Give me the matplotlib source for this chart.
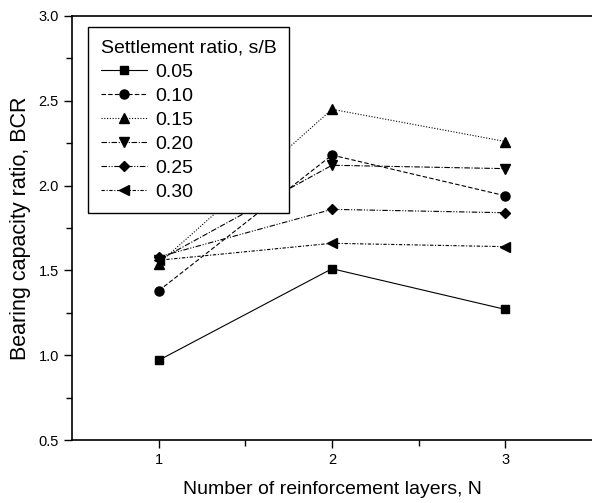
import matplotlib
matplotlib.use("Agg")
import matplotlib.pyplot as plt
from matplotlib.ticker import MultipleLocator

plt.rcParams['font.family'] = ['Liberation Sans', 'DejaVu Sans']

# data
layers = [1, 2, 3]
ratios = ['0.05', '0.10', '0.15', '0.20', '0.25', '0.30']
bcr_005 = [0.97, 1.51, 1.27]
bcr_010 = [1.38, 2.18, 1.94]
bcr_015 = [1.54, 2.45, 2.26]
bcr_020 = [1.56, 2.12, 2.10]
bcr_025 = [1.58, 1.86, 1.84]
bcr_030 = [1.56, 1.66, 1.64]

series = [bcr_005, bcr_010, bcr_015, bcr_020, bcr_025, bcr_030]
markers = ['s', 'o', '^', 'v', 'D', '<']
sizes = [6, 6.5, 7, 7, 5.5, 7]
styles = ['-', (0, (4, 2)), (0, (1, 1.5)), (0, (5, 1.5, 1, 1.5)),
          (0, (5, 1.5, 1, 1.5, 1, 1.5)), (0, (3, 1.5, 1, 1.5))]

fig = plt.figure(figsize=(5.92, 5.03), dpi=100)
ax = fig.add_axes([0.1216, 0.1252, 0.8784, 0.8430])

for vals, lab, mk, ms, ls in zip(series, ratios, markers, sizes, styles):
    ax.plot(layers, vals, color='black', linestyle=ls, linewidth=0.8,
            marker=mk, markersize=ms, label=lab)

ax.set_xlim(0.5, 3.5)
ax.set_ylim(0.5, 3.0)
ax.yaxis.set_major_locator(MultipleLocator(0.5))
ax.yaxis.set_minor_locator(MultipleLocator(0.25))
ax.set_xticks([1, 2, 3])
ax.set_xticks([1.5, 2.5], minor=True)
ax.tick_params(which='major', direction='out', length=6, width=1, labelsize=10.5)
ax.tick_params(which='minor', direction='out', length=4, width=1)
ax.spines['right'].set_visible(False)
for s in ['left', 'bottom', 'top']:
    ax.spines[s].set_linewidth(1.2)

ax.set_xlabel('Number of reinforcement layers, N', fontsize=14, labelpad=10)
ax.set_ylabel('Bearing capacity ratio, BCR', fontsize=15.5, labelpad=5)

leg = ax.legend(title='Settlement ratio, s/B', loc='upper left',
                bbox_to_anchor=(0.031, 0.974), borderaxespad=0,
                fancybox=False, framealpha=1, edgecolor='black',
                fontsize=14, title_fontsize=14, handlelength=2.4,
                handletextpad=0.4, labelspacing=0.33, borderpad=0.65,
                alignment='left')
leg.get_frame().set_linewidth(1.0)

fig.savefig('out.png', dpi=100)
